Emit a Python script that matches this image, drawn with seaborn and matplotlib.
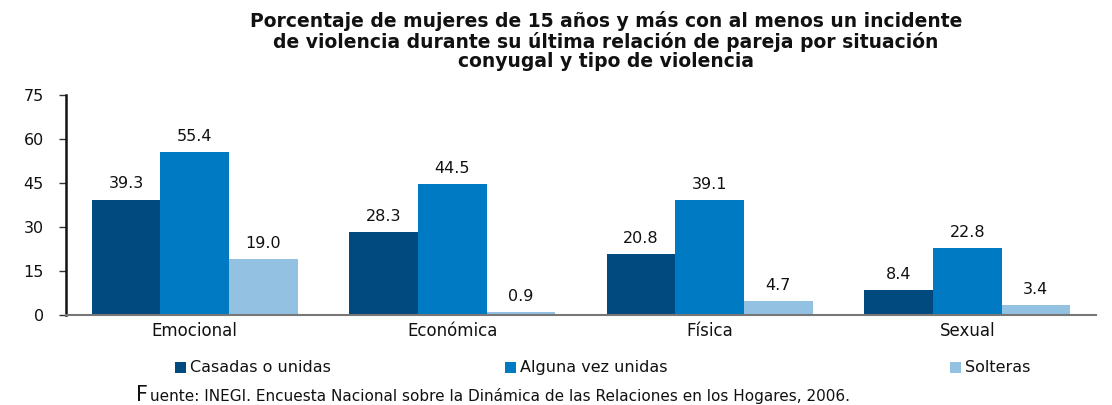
import matplotlib
matplotlib.use("Agg")
import matplotlib.pyplot as plt
import seaborn as sns
import pandas as pd

categorias = ["Emocional", "Económica", "Física", "Sexual"]
series = ["Casadas o unidas", "Alguna vez unidas", "Solteras"]
casadas = [39.3, 28.3, 20.8, 8.4]
alguna_vez = [55.4, 44.5, 39.1, 22.8]
solteras = [19.0, 0.9, 4.7, 3.4]
colores = ["#004A80", "#007AC2", "#93C1E2"]
yticks = [0, 15, 30, 45, 60, 75]

rows = []
for s, vals in zip(series, [casadas, alguna_vez, solteras]):
    for c, v in zip(categorias, vals):
        rows.append({"cat": c, "serie": s, "val": v})
df = pd.DataFrame(rows)

sns.set_theme(style="white")
plt.rcParams["font.family"] = ["DejaVu Sans"]

fig = plt.figure(figsize=(11.12, 4.05), dpi=100)
ax = fig.add_axes([66/1112, 1 - 315/405, (1096-66)/1112, 220/405])
sns.barplot(data=df, x="cat", y="val", hue="serie", palette=colores,
            order=categorias, hue_order=series, width=0.8, saturation=1,
            errorbar=None, ax=ax, legend=False, linewidth=0, edgecolor="none")
for cont in ax.containers:
    ax.bar_label(cont, fmt="%.1f", padding=6, fontsize=11.5, color="#111111")

ax.set_ylim(0, 75)
ax.set_xlim(-0.5, 3.5)
ax.set_yticks(yticks)
ax.set_yticklabels([str(t) for t in yticks], fontsize=11.5, color="#111111")
ax.set_xlabel("")
ax.set_ylabel("")
ax.tick_params(axis="x", labelsize=12, length=0, pad=5, labelcolor="#111111")
ax.tick_params(axis="y", left=True, length=5, width=1, color="#333333", pad=11)
for s in ["top", "right"]:
    ax.spines[s].set_visible(False)
ax.spines["left"].set_color("#111111")
ax.spines["left"].set_linewidth(1.8)
ax.spines["bottom"].set_color("#777777")
ax.spines["bottom"].set_linewidth(1.5)

fig.text(0.545, 0.972, "Porcentaje de mujeres de 15 años y más con al menos un incidente\n"
         "de violencia durante su última relación de pareja por situación\n"
         "conyugal y tipo de violencia", ha="center", va="top",
         fontsize=13.5, fontweight="bold", linespacing=1.02, color="#111111")

positions = [175, 505, 950]
for c, lbl, px in zip(colores, series, positions):
    fig.patches.append(matplotlib.patches.Rectangle((px/1112, 1-373/405), 11/1112, 11/405,
                       transform=fig.transFigure, facecolor=c, edgecolor="none"))
    fig.text((px+15)/1112, 1-372/405, lbl, ha="left", va="baseline", fontsize=11.5, color="#111111")

fig.text(136/1112, 1-401/405, "F", ha="left", va="baseline", fontsize=15, color="#111111")
fig.text(150/1112, 1-401/405, "uente: INEGI. Encuesta Nacional sobre la Dinámica de las Relaciones en los Hogares, 2006.",
         ha="left", va="baseline", fontsize=11, color="#111111")

fig.savefig("out.png", dpi=100)
